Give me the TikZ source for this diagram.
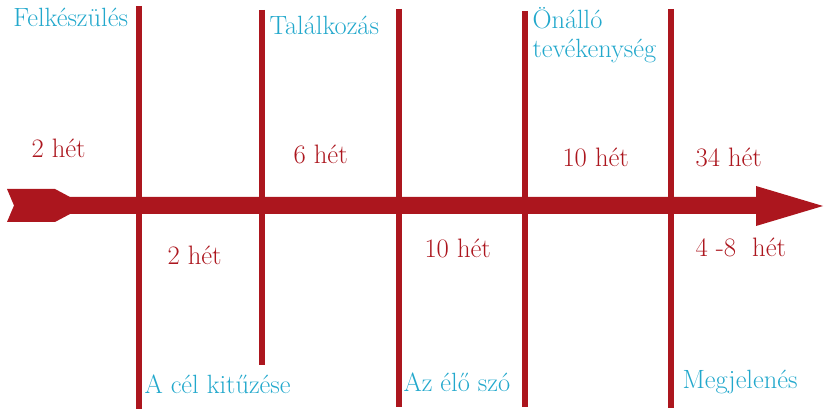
\documentclass[tikz,border=0pt]{standalone}
\usepackage{fontspec}
\definecolor{timered}{RGB}{172,22,30}
\definecolor{stageblue}{RGB}{34,168,204}
\tikzset{every picture/.style={line width=0.75pt}}
\tikzset{
  stage/.style={anchor=base west,inner sep=0pt,text=stageblue,font=\fontsize{19.8}{21.75}\selectfont,align=left},
  weeks/.style={anchor=base west,inner sep=0pt,text=timered,font=\fontsize{20}{22}\selectfont},
  divider/.style={draw=timered,line width=4.5pt}
}
\begin{document}
\begin{tikzpicture}[x=0.75pt,y=0.75pt,yscale=-1,xscale=1]
\useasboundingbox (0,0) rectangle (824,409);

%Shapes [id:arrow] 
\fill [timered] (7,189) -- (55,189) -- (70,197) -- (756,197) -- (756,186) -- (823,206) -- (756,226) -- (756,214) -- (70,214) -- (55,222) -- (7,222) -- (14,205.5) -- cycle ;

%Straight Lines [id:divider1] 
\draw [divider]  (139,6) -- (139,409) ;
%Straight Lines [id:divider2] 
\draw [divider]  (262,10) -- (262,365) ;
%Straight Lines [id:divider3] 
\draw [divider]  (399,9) -- (399,407) ;
%Straight Lines [id:divider4] 
\draw [divider]  (525,11) -- (525,407) ;
%Straight Lines [id:divider5] 
\draw [divider]  (671,9) -- (671,408) ;

% Text Node
\draw (13,27) node (felk) [stage] {Felkészülés};
% Text Node
\draw (269,35) node (talal) [stage] {Találkozás};
% Text Node
\draw (532,58) node (onallo) [stage] {Önálló\\tevékenység};
% Text Node
\draw (144,393) node (cel) [stage] {A cél kitűzése};
% Text Node
\draw (403,391) node (eloszo) [stage] {Az élő szó};
% Text Node
\draw (682,388) node (megjel) [stage] {Megjelenés};

% Text Node
\draw (31,158) node (w1) [weeks] {2 hét};
% Text Node
\draw (167,265) node (w2) [weeks] {2 hét};
% Text Node
\draw (293,164) node (w3) [weeks] {6 hét};
% Text Node
\draw (424,258) node (w4) [weeks] {10 hét};
% Text Node
\draw (562,167) node (w5) [weeks] {10 hét};
% Text Node
\draw (695,167) node (w6) [weeks] {34 hét};
% Text Node
\draw (695,257) node (w7) [weeks] {4 -8~~hét};

\end{tikzpicture}
\end{document}
